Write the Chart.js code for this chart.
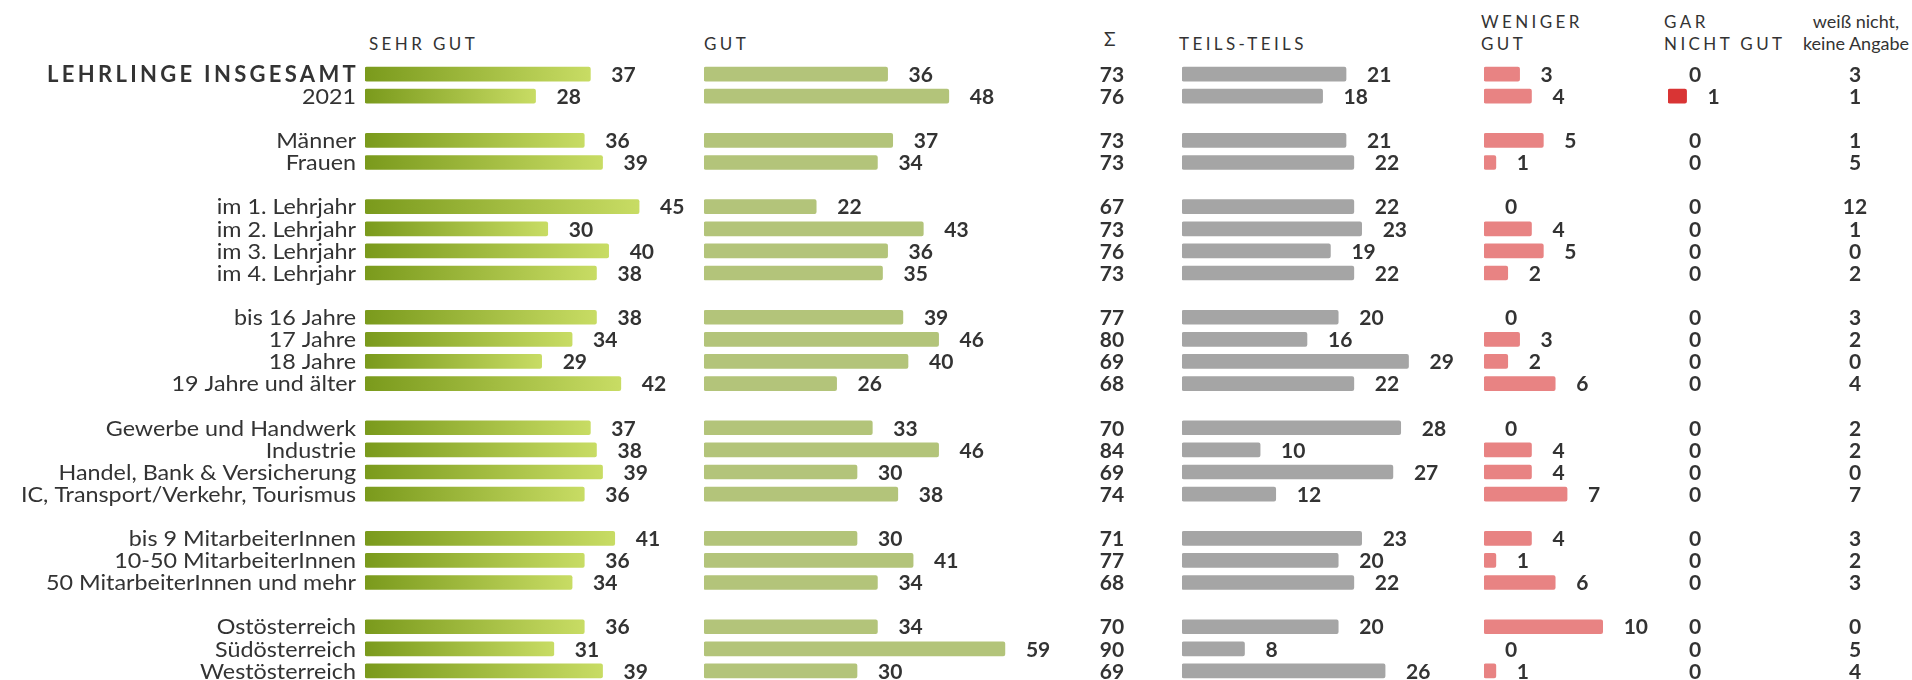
<!DOCTYPE html>
<html>
<head>
<meta charset="utf-8">
<script src="https://cdn.jsdelivr.net/npm/chart.js@4.4.1/dist/chart.umd.min.js"></script>
<style>
  html, body { margin: 0; padding: 0; background: #fff; width: 1912px; height: 680px; overflow: hidden; font-family: Lato, sans-serif; color: #333; }
  canvas { position: absolute; top: 63px; }
  .hd { position: absolute; font-size: 17px; letter-spacing: 3.4px; line-height: 21.5px; color: #333; white-space: nowrap; }
</style>
</head>
<body>

<div class="hd" style="left:369px;top:33px">SEHR GUT</div>
<div class="hd" style="left:704px;top:33px">GUT</div>
<div class="hd" style="left:1104px;top:28px;font-size:19px;letter-spacing:0">Σ</div>
<div class="hd" style="left:1179px;top:33px">TEILS-TEILS</div>
<div class="hd" style="left:1481px;top:11px">WENIGER<br>GUT</div>
<div class="hd" style="left:1664px;top:11px">GAR<br>NICHT GUT</div>
<div class="hd" style="left:1796px;top:11px;width:120px;text-align:center;letter-spacing:0;font-size:18px">weiß nicht,<br>keine Angabe</div>

<canvas id="cSehrGut" width="700" height="619" style="left:0px"></canvas>
<canvas id="cGut" width="357" height="619" style="left:704px"></canvas>
<canvas id="cSumme" width="60" height="619" style="left:1082px"></canvas>
<canvas id="cTeils" width="289" height="619" style="left:1182px"></canvas>
<canvas id="cWeniger" width="178" height="619" style="left:1484px"></canvas>
<canvas id="cGarNicht" width="130" height="619" style="left:1668px"></canvas>
<canvas id="cWeiss" width="80" height="619" style="left:1815px"></canvas>

<script>
// rows (empty strings are the gaps between groups)
const labels = [
  'LEHRLINGE INSGESAMT', '2021', '',
  'Männer', 'Frauen', '',
  'im 1. Lehrjahr', 'im 2. Lehrjahr', 'im 3. Lehrjahr', 'im 4. Lehrjahr', '',
  'bis 16 Jahre', '17 Jahre', '18 Jahre', '19 Jahre und älter', '',
  'Gewerbe und Handwerk', 'Industrie', 'Handel, Bank & Versicherung', 'IC, Transport/Verkehr, Tourismus', '',
  'bis 9 MitarbeiterInnen', '10-50 MitarbeiterInnen', '50 MitarbeiterInnen und mehr', '',
  'Ostösterreich', 'Südösterreich', 'Westösterreich'
];

const sehrGut    = [37, 28, null, 36, 39, null, 45, 30, 40, 38, null, 38, 34, 29, 42, null, 37, 38, 39, 36, null, 41, 36, 34, null, 36, 31, 39];
const gut        = [36, 48, null, 37, 34, null, 22, 43, 36, 35, null, 39, 46, 40, 26, null, 33, 46, 30, 38, null, 30, 41, 34, null, 34, 59, 30];
const summe      = [73, 76, null, 73, 73, null, 67, 73, 76, 73, null, 77, 80, 69, 68, null, 70, 84, 69, 74, null, 71, 77, 68, null, 70, 90, 69];
const teilsTeils = [21, 18, null, 21, 22, null, 22, 23, 19, 22, null, 20, 16, 29, 22, null, 28, 10, 27, 12, null, 23, 20, 22, null, 20, 8, 26];
const wenigerGut = [3, 4, null, 5, 1, null, 0, 4, 5, 2, null, 0, 3, 2, 6, null, 0, 4, 4, 7, null, 4, 1, 6, null, 10, 0, 1];
const garNicht   = [0, 1, null, 0, 0, null, 0, 0, 0, 0, null, 0, 0, 0, 0, null, 0, 0, 0, 0, null, 0, 0, 0, null, 0, 0, 0];
const weissNicht = [3, 1, null, 1, 5, null, 12, 1, 0, 2, null, 3, 2, 0, 4, null, 2, 2, 0, 7, null, 3, 2, 3, null, 0, 5, 4];

const TEXT = '#333';
const FONT = 'Lato, sans-serif';

// numbers next to the bars (or centred for the text-only columns)
const valueLabels = {
  id: 'valueLabels',
  afterDatasetsDraw(chart, args, opts) {
    const ctx = chart.ctx;
    const meta = chart.getDatasetMeta(0);
    const data = chart.data.datasets[0].data;
    const area = chart.chartArea;
    ctx.save();
    ctx.font = 'bold 21px ' + FONT;
    ctx.fillStyle = TEXT;
    ctx.textBaseline = 'middle';
    meta.data.forEach((bar, i) => {
      if (data[i] === null) return;
      if (opts.center) {
        ctx.textAlign = 'center';
        ctx.fillText(data[i], (area.left + area.right) / 2, bar.y + 1);
      } else {
        ctx.textAlign = 'left';
        ctx.fillText(data[i], bar.x + 21, bar.y + 1);
      }
    });
    ctx.restore();
  }
};

// row labels on the y axis: the source type is a bit wider than Lato, so stretch it
const rowLabels = {
  id: 'rowLabels',
  afterDraw(chart) {
    const y = chart.scales.y;
    if (!y.options.display) return;
    const ctx = chart.ctx;
    const xRight = y.right - 9;
    labels.forEach((lab, i) => {
      if (!lab) return;
      ctx.save();
      ctx.fillStyle = TEXT;
      ctx.textAlign = 'right';
      ctx.textBaseline = 'middle';
      ctx.translate(xRight, y.getPixelForValue(i) + 1);
      if (i === 0) {
        ctx.font = 'bold 22px ' + FONT;
        ctx.letterSpacing = '3.3px';
        ctx.fillText(lab, 3, 0);
      } else {
        ctx.font = '21px ' + FONT;
        ctx.scale(1.11, 1);
        ctx.fillText(lab, 0, 0);
      }
      ctx.restore();
    });
  }
};

function sehrGutFill(c) {
  const chart = c.chart;
  if (!chart.chartArea) return '#9fb843';
  const x = chart.scales.x;
  const v = c.dataset.data[c.dataIndex] || 0;
  const x0 = x.getPixelForValue(0);
  const x1 = Math.max(x.getPixelForValue(v), x0 + 1);
  const g = chart.ctx.createLinearGradient(x0, 0, x1, 0);
  g.addColorStop(0, '#7a9a1c');
  g.addColorStop(1, '#c8dc64');
  return g;
}

// zero values get no visible bar
function flat(color) {
  return (c) => (c.raw ? color : 'rgba(0,0,0,0)');
}

function makeChart(id, data, color, max, opts = {}) {
  const yAxis = {
    display: !!opts.axis,
    grid: { display: false, drawTicks: false },
    border: { display: false },
    ticks: { display: false }
  };
  if (opts.axis) {
    yAxis.afterFit = (s) => { s.width = 365; s.paddingTop = 0; s.paddingBottom = 0; };
  }
  return new Chart(document.getElementById(id), {
    type: 'bar',
    data: {
      labels: labels,
      datasets: [{
        data: data,
        backgroundColor: color,
        barThickness: 14,
        borderRadius: 2,
        borderSkipped: false
      }]
    },
    options: {
      indexAxis: 'y',
      responsive: false,
      animation: false,
      layout: { padding: 0 },
      scales: {
        x: { display: false, min: 0, max: max },
        y: yAxis
      },
      plugins: {
        legend: { display: false },
        tooltip: { enabled: false },
        valueLabels: { center: !!opts.center }
      }
    },
    plugins: [valueLabels, rowLabels]
  });
}

makeChart('cSehrGut', sehrGut, sehrGutFill, 55, { axis: true });
makeChart('cGut', gut, flat('#b3c47a'), 70);
makeChart('cSumme', summe, 'rgba(0,0,0,0)', 1, { center: true });
makeChart('cTeils', teilsTeils, flat('#a5a5a5'), 37);
makeChart('cWeniger', wenigerGut, flat('#e88383'), 15);
makeChart('cGarNicht', garNicht, flat('#d93434'), 7);
makeChart('cWeiss', weissNicht, 'rgba(0,0,0,0)', 1, { center: true });
</script>
</body>
</html>
